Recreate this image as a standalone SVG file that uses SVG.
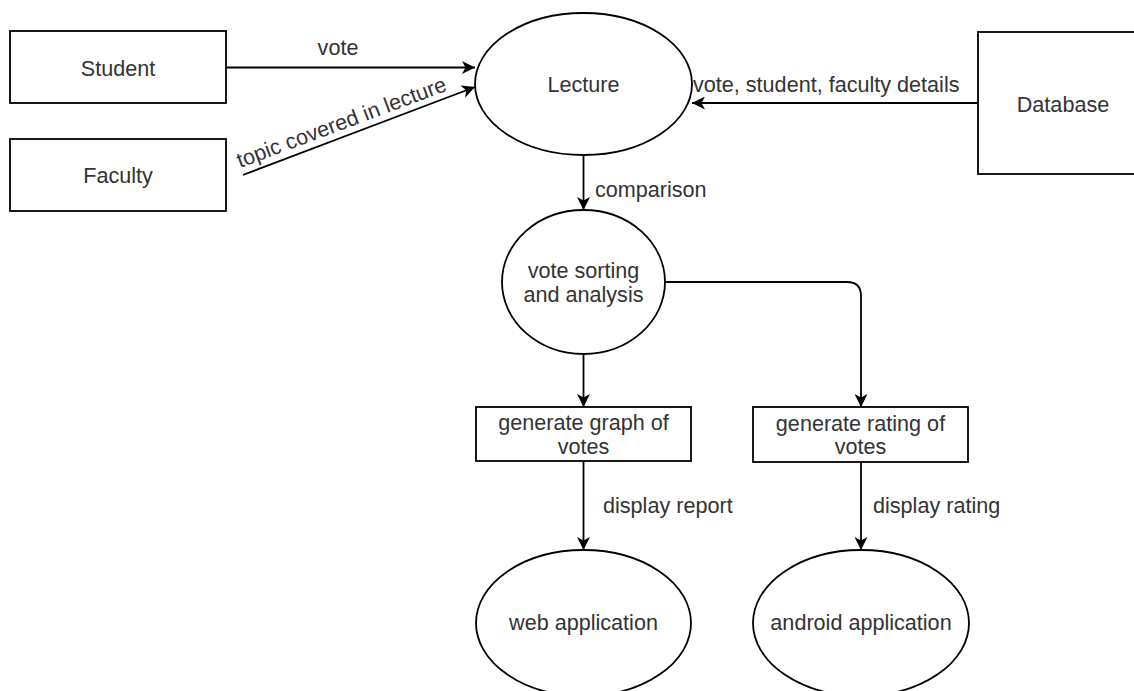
<svg xmlns="http://www.w3.org/2000/svg" width="1134" height="691" viewBox="0 0 1134 691">
  <defs>
    <style>
      .shape { fill: #ffffff; stroke: #000000; stroke-width: 1.8; }
      .edge { fill: none; stroke: #000000; stroke-width: 1.8; }
      .label { font-family: "Liberation Sans", Arial, sans-serif; font-size: 21.6px; fill: #333333; }
      .mid { text-anchor: middle; }
    </style>
    <marker id="arrow" markerUnits="userSpaceOnUse" markerWidth="14" markerHeight="13" refX="13" refY="6.5" orient="auto">
      <path d="M0,0 L13,6.5 L0,13 L3.5,6.5 Z" fill="#000000"/>
    </marker>
  </defs>
  <rect width="1134" height="691" fill="#ffffff"/>

  <!-- connectors -->
  <g id="connectors">
    <line class="edge" x1="226" y1="67.5" x2="475" y2="67.5" marker-end="url(#arrow)"/>
    <line class="edge" x1="243" y1="175" x2="475" y2="87" marker-end="url(#arrow)"/>
    <line class="edge" x1="978" y1="103" x2="692" y2="103" marker-end="url(#arrow)"/>
    <line class="edge" x1="583.5" y1="155" x2="583.5" y2="210" marker-end="url(#arrow)"/>
    <line class="edge" x1="583.5" y1="354" x2="583.5" y2="407" marker-end="url(#arrow)"/>
    <path class="edge" d="M665,282 H847 Q861,282 861,296 V407" marker-end="url(#arrow)"/>
    <line class="edge" x1="583.5" y1="461" x2="583.5" y2="550" marker-end="url(#arrow)"/>
    <line class="edge" x1="861" y1="462" x2="861" y2="550" marker-end="url(#arrow)"/>

    <text class="label mid" x="338" y="55">vote</text>
    <text class="label" x="0" y="0" transform="translate(240,168) rotate(-20.5)">topic covered in lecture</text>
    <text class="label" x="693" y="92">vote, student, faculty details</text>
    <text class="label" x="595" y="197">comparison</text>
    <text class="label" x="603" y="513">display report</text>
    <text class="label" x="873" y="513">display rating</text>
  </g>

  <!-- nodes -->
  <g id="student">
    <rect class="shape" x="10" y="31" width="216" height="72"/>
    <text class="label mid" x="118" y="76">Student</text>
  </g>
  <g id="faculty">
    <rect class="shape" x="10" y="139" width="216" height="72"/>
    <text class="label mid" x="118" y="183">Faculty</text>
  </g>
  <g id="lecture">
    <ellipse class="shape" cx="583.5" cy="84" rx="108.5" ry="71"/>
    <text class="label mid" x="583.5" y="92">Lecture</text>
  </g>
  <g id="database">
    <rect class="shape" x="978" y="32" width="170" height="142"/>
    <text class="label mid" x="1063" y="112">Database</text>
  </g>
  <g id="vote-sorting">
    <ellipse class="shape" cx="583.5" cy="282" rx="81.5" ry="72"/>
    <text class="label mid" x="583.5" y="278">vote sorting</text>
    <text class="label mid" x="583.5" y="302">and analysis</text>
  </g>
  <g id="graph-votes">
    <rect class="shape" x="476" y="407" width="215" height="54"/>
    <text class="label mid" x="583.5" y="430">generate graph of</text>
    <text class="label mid" x="583.5" y="454">votes</text>
  </g>
  <g id="rating-votes">
    <rect class="shape" x="753" y="407" width="215" height="55"/>
    <text class="label mid" x="860.5" y="431">generate rating of</text>
    <text class="label mid" x="860.5" y="454">votes</text>
  </g>
  <g id="web-app">
    <ellipse class="shape" cx="583.5" cy="623" rx="107.5" ry="73"/>
    <text class="label mid" x="583.5" y="630">web application</text>
  </g>
  <g id="android-app">
    <ellipse class="shape" cx="861" cy="623" rx="108" ry="73"/>
    <text class="label mid" x="861" y="630">android application</text>
  </g>
</svg>
